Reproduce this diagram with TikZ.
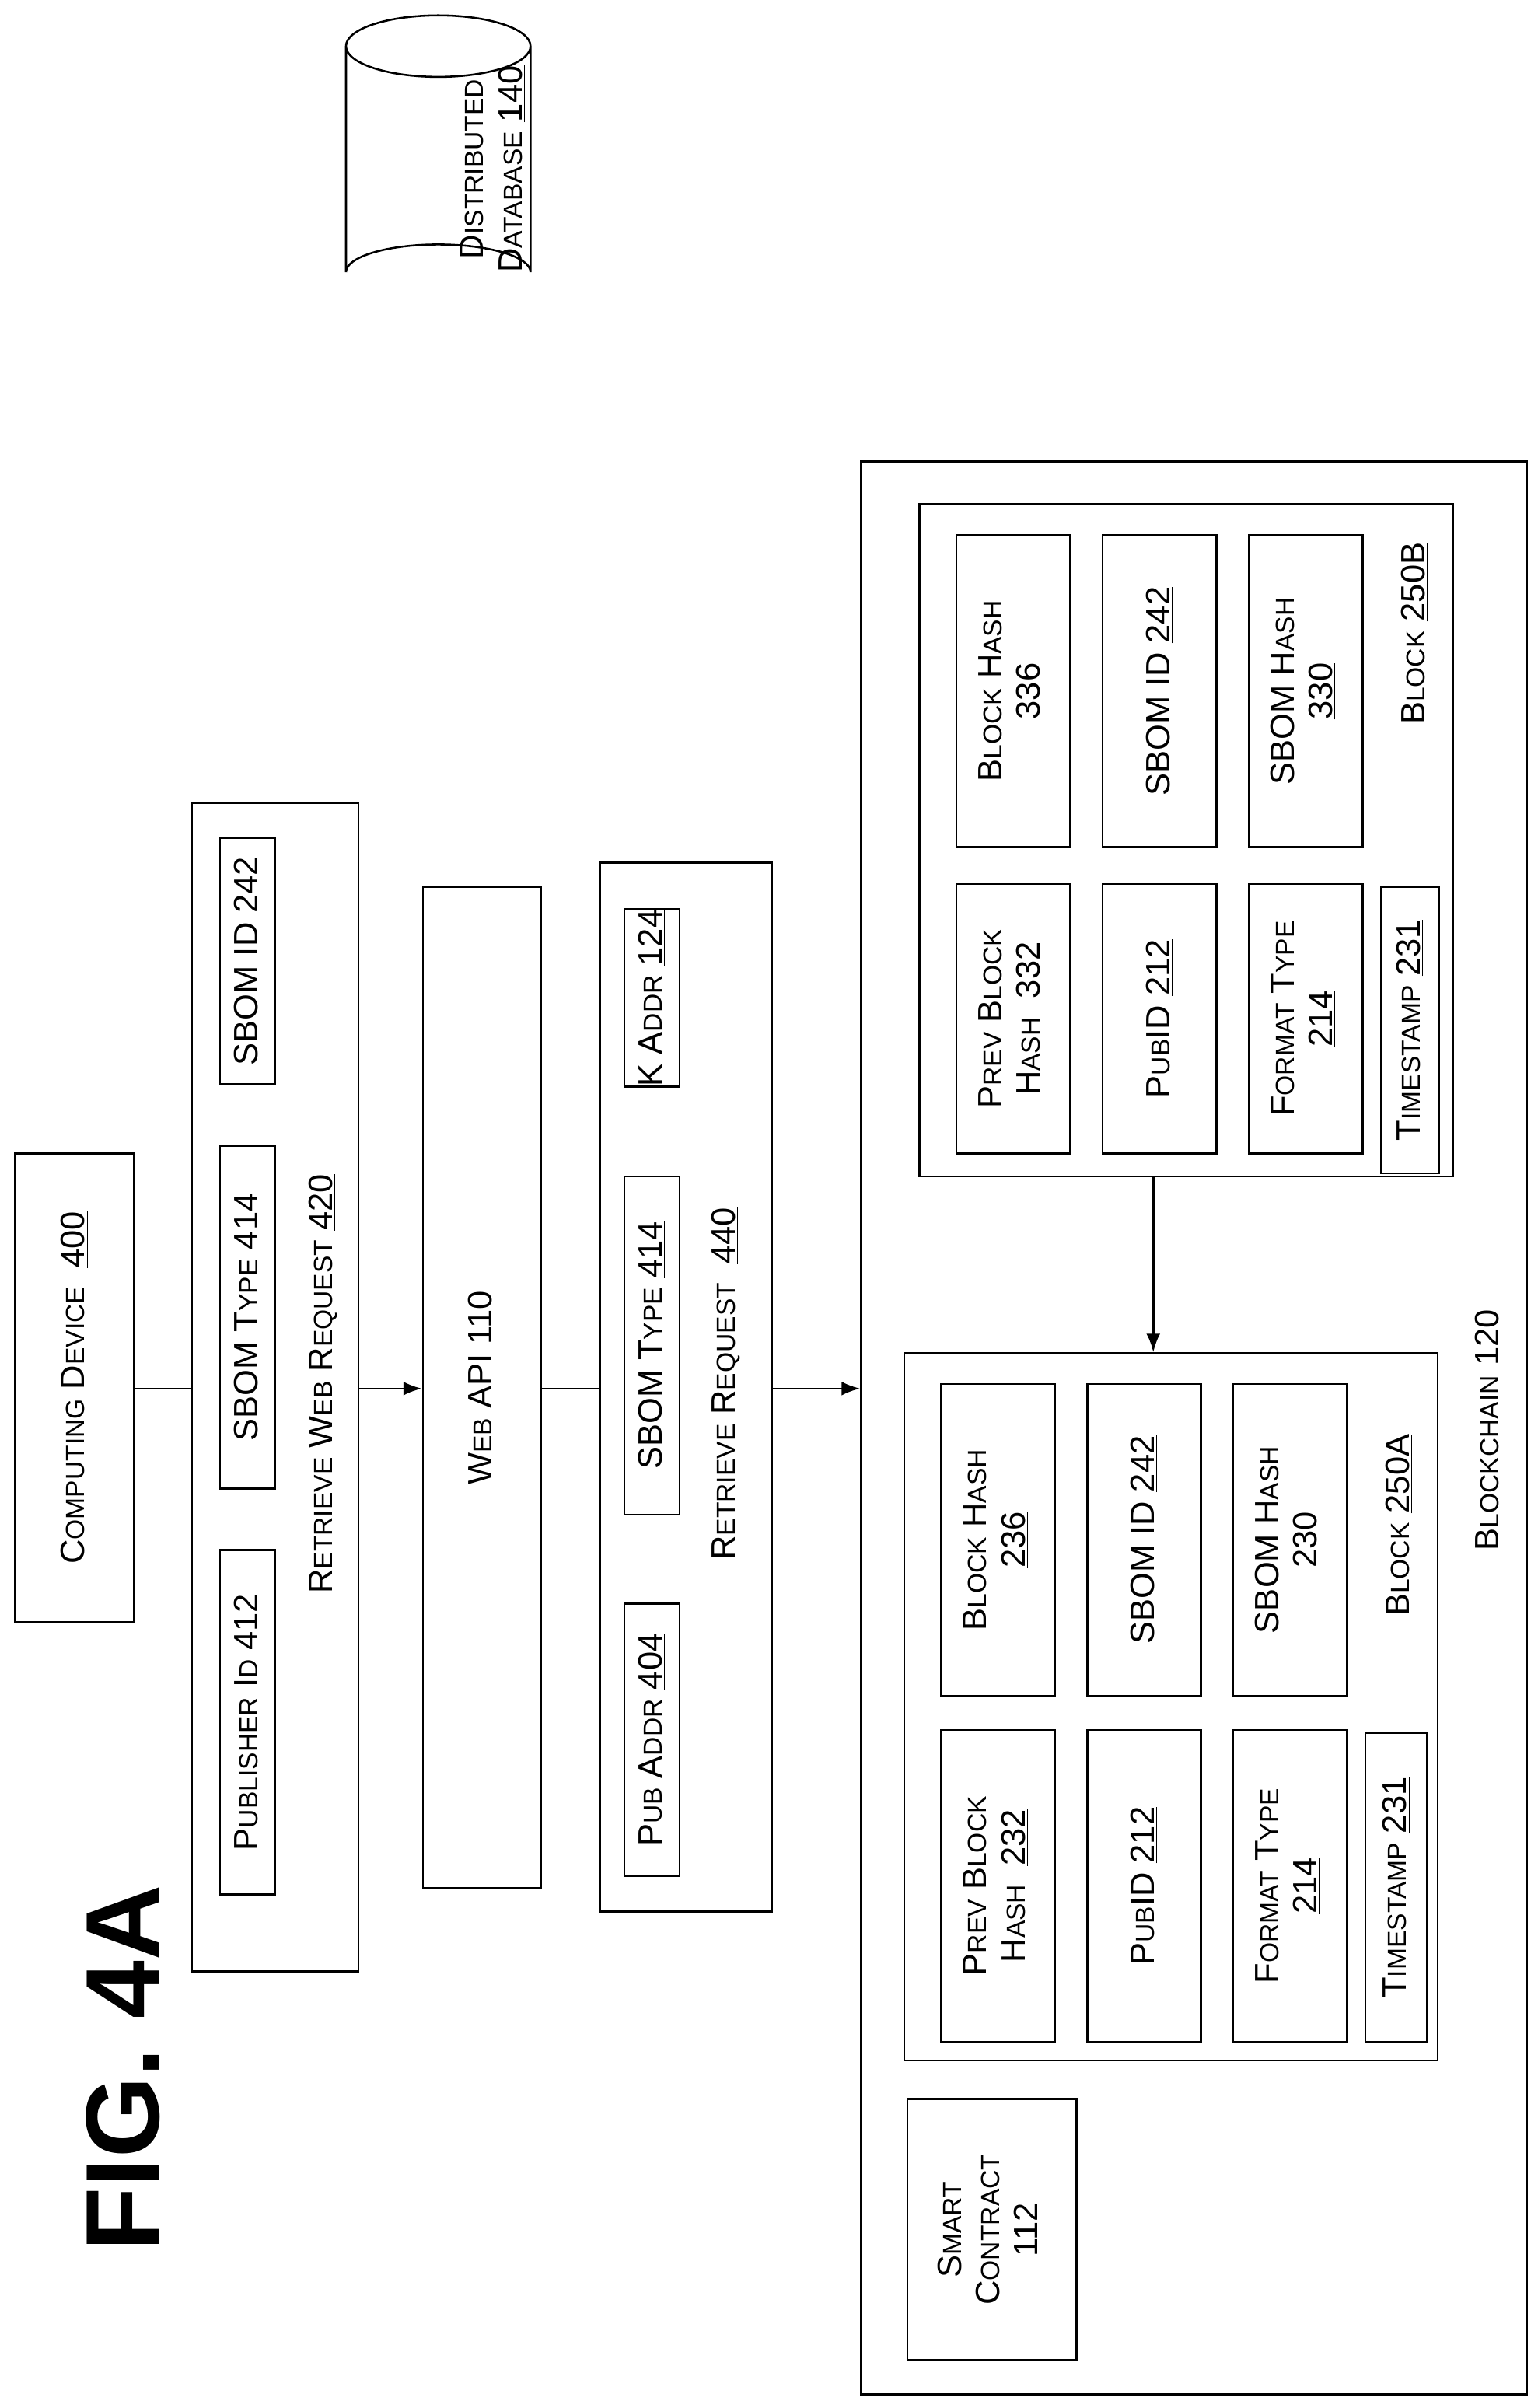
\documentclass[tikz,border=0pt]{standalone}
\usepackage{fontspec}
\setmainfont{Liberation Sans}
\usepackage{graphicx}
\usetikzlibrary{arrows.meta}
\newcommand\SC[2]{#1{\fontsize{17}{20}\selectfont\MakeUppercase{#2}}}
\newcommand\bx[6]{\node[box,minimum width={#4-#2},minimum height={#5-#3}] (#1) at ({(#2+#4)/2},{(#3+#5)/2}) {\rotatebox{90}{#6}};}
\newcommand\tx[4]{\node[txt] (#1) at (#2,#3) {\rotatebox{90}{#4}};}
\begin{document}
\begin{tikzpicture}[x=1pt,y=-1pt,
  box/.style={draw,line width=1.3pt,inner sep=0pt,font=\fontsize{22}{25}\selectfont},
  txt/.style={inner sep=0pt,font=\fontsize{22}{25}\selectfont},
  arr/.style={line width=1.3pt,-{Latex[length=12pt,width=9pt]}},
  ln/.style={line width=1.3pt}]
\useasboundingbox (0,0) rectangle (1000,1566);
\node[inner sep=0pt,font=\fontsize{68}{70}\selectfont\bfseries] (fig) at (80,1345) {\rotatebox{90}{FIG. 4A}};
% cylinder
\draw[line width=1.3pt] (225,30) arc[start angle=180,end angle=360,x radius=60,y radius=20]
  arc[start angle=0,end angle=180,x radius=60,y radius=20] -- (225,177)
  arc[start angle=180,end angle=360,x radius=60,y radius=18] -- (345,30);
\tx{db}{322}{110}{\begin{tabular}{@{}c@{}}\SC{D}{istributed}\\\SC{D}{atabase} \underline{140}\end{tabular}}
% computing device
\bx{cd}{10}{750}{87}{1055}{\SC{C}{omputing} \SC{D}{evice}\ \ \underline{400}}
% retrieve web request
\bx{rwr}{125}{522}{233}{1282}{}
\bx{pid}{143}{1008}{179}{1232}{\SC{P}{ublisher} I{\fontsize{17}{20}\selectfont D} \underline{412}}
\bx{st1}{143}{745}{179}{968}{SBOM \SC{T}{ype} \underline{414}}
\bx{sid1}{143}{545}{179}{705}{SBOM ID \underline{242}}
\tx{rwrl}{210}{900}{\SC{R}{etrieve} \SC{W}{eb} \SC{R}{equest} \underline{420}}
% web api
\bx{api}{275}{577}{352}{1228}{\SC{W}{eb} API \underline{110}}
% retrieve request
\bx{rr}{390}{561}{502}{1243}{}
\bx{pa}{406}{1043}{442}{1220}{\SC{P}{ub} \SC{A}{ddr} \underline{404}}
\bx{st2}{406}{765}{442}{985}{SBOM \SC{T}{ype} \underline{414}}
\bx{ka}{406}{593}{442}{705}{K \SC{A}{ddr} \underline{124}}
\tx{rrl}{472}{900}{\SC{R}{etrieve} \SC{R}{equest}\ \ \underline{440}}
% blockchain
\bx{bc}{560}{300}{993}{1557}{}
\tx{bcl}{968}{930}{\SC{B}{lockchain} \underline{120}}
\bx{sc}{590}{1365}{700}{1535}{\begin{tabular}{@{}c@{}}\SC{S}{mart}\\\SC{C}{ontract}\\\underline{112}\end{tabular}}
% block A
\bx{ba}{588}{880}{935}{1340}{}
\bx{pbh1}{612}{1125}{686}{1328}{\begin{tabular}{@{}c@{}}\SC{P}{rev} \SC{B}{lock}\\\SC{H}{ash}\ \ \underline{232}\end{tabular}}
\bx{bh1}{612}{900}{686}{1103}{\begin{tabular}{@{}c@{}}\SC{B}{lock} \SC{H}{ash}\\\underline{236}\end{tabular}}
\bx{pub1}{707}{1125}{781}{1328}{P{\fontsize{17}{20}\selectfont UB}ID \underline{212}}
\bx{sid2}{707}{900}{781}{1103}{SBOM ID \underline{242}}
\bx{ft1}{802}{1125}{876}{1328}{\begin{tabular}{@{}c@{}}\SC{F}{ormat} \SC{T}{ype}\\\underline{214}\end{tabular}}
\bx{sh1}{802}{900}{876}{1103}{\begin{tabular}{@{}c@{}}SBOM \SC{H}{ash}\\\underline{230}\end{tabular}}
\bx{ts1}{888}{1127}{928}{1328}{\SC{T}{imestamp} \underline{231}}
\tx{bal}{910}{992}{\SC{B}{lock} \underline{250A}}
% block B
\bx{bb}{598}{328}{945}{765}{}
\bx{pbh2}{622}{575}{696}{750}{\begin{tabular}{@{}c@{}}\SC{P}{rev} \SC{B}{lock}\\\SC{H}{ash}\ \ \underline{332}\end{tabular}}
\bx{bh2}{622}{348}{696}{551}{\begin{tabular}{@{}c@{}}\SC{B}{lock} \SC{H}{ash}\\\underline{336}\end{tabular}}
\bx{pub2}{717}{575}{791}{750}{P{\fontsize{17}{20}\selectfont UB}ID \underline{212}}
\bx{sid3}{717}{348}{791}{551}{SBOM ID \underline{242}}
\bx{ft2}{812}{575}{886}{750}{\begin{tabular}{@{}c@{}}\SC{F}{ormat} \SC{T}{ype}\\\underline{214}\end{tabular}}
\bx{sh2}{812}{348}{886}{551}{\begin{tabular}{@{}c@{}}SBOM \SC{H}{ash}\\\underline{330}\end{tabular}}
\bx{ts2}{898}{577}{936}{763}{\SC{T}{imestamp} \underline{231}}
\tx{bbl}{920}{412}{\SC{B}{lock} \underline{250B}}
% connectors
\draw[ln] (cd.east |- 0,903) -- (rwr.west |- 0,903);
\draw[arr] (rwr.east |- 0,903) -- (api.west |- 0,903);
\draw[ln] (api.east |- 0,903) -- (rr.west |- 0,903);
\draw[arr] (rr.east |- 0,903) -- (bc.west |- 0,903);
\draw[arr] (bb.south -| 750,0) -- (ba.north -| 750,0);
\end{tikzpicture}
\end{document}
